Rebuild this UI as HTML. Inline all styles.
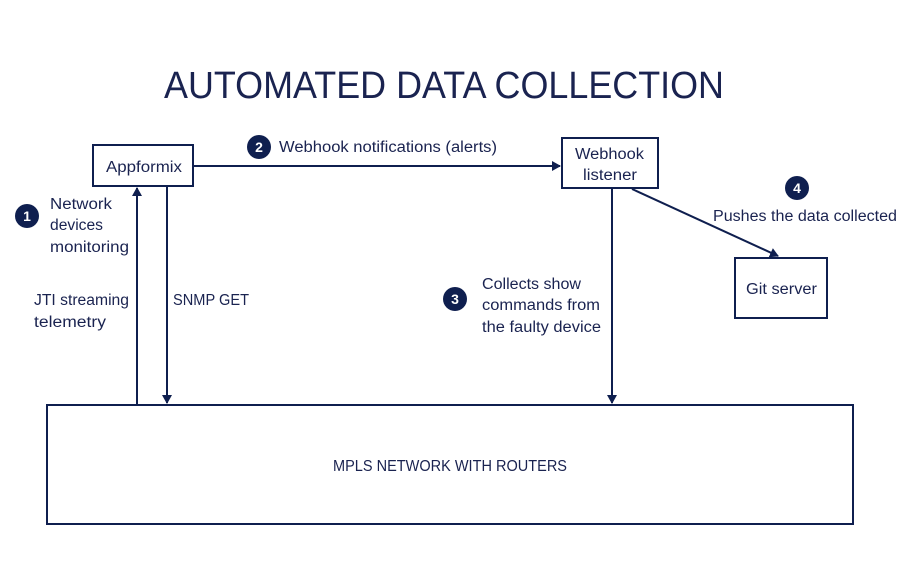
<!DOCTYPE html>
<html><head><meta charset="utf-8"><style>
html,body{margin:0;padding:0;background:#fff;}
svg{display:block;}
text{font-family:"Liberation Sans",sans-serif;fill:#1a2350;}
</style></head><body>
<svg width="905" height="573" viewBox="0 0 905 573" xmlns="http://www.w3.org/2000/svg">
<defs><marker id="a" markerWidth="10" markerHeight="10" refX="8" refY="5" orient="auto" markerUnits="userSpaceOnUse"><path d="M0,0 L9,5 L0,10 z" fill="#0f1f4f"/></marker></defs>
<text x="164" y="98" font-size="38" textLength="560" lengthAdjust="spacingAndGlyphs">AUTOMATED DATA COLLECTION</text>
<g fill="none" stroke="#0f1f4f" stroke-width="2">
<rect x="93" y="145" width="100" height="41"/>
<rect x="562" y="138" width="96" height="50"/>
<rect x="735" y="258" width="92" height="60"/>
<rect x="47" y="405" width="806" height="119"/>
<line x1="137" y1="405" x2="137" y2="188" marker-end="url(#a)"/>
<line x1="167" y1="186" x2="167" y2="403" marker-end="url(#a)"/>
<line x1="193" y1="166" x2="560" y2="166" marker-end="url(#a)"/>
<line x1="612" y1="188" x2="612" y2="403" marker-end="url(#a)"/>
<line x1="632" y1="189" x2="778" y2="256" marker-end="url(#a)"/>
</g>
<g fill="#0f1f4f">
<circle cx="27" cy="216" r="12"/><circle cx="259" cy="147" r="12"/>
<circle cx="455" cy="299" r="12"/><circle cx="797" cy="188" r="12"/>
</g>
<g font-size="14" font-weight="bold" text-anchor="middle">
<text x="27" y="221" style="fill:#fff">1</text><text x="259" y="152" style="fill:#fff">2</text>
<text x="455" y="304" style="fill:#fff">3</text><text x="797" y="193" style="fill:#fff">4</text>
</g>
<g font-size="15.5">
<text x="106" y="172" textLength="76" lengthAdjust="spacingAndGlyphs">Appformix</text>
<text x="575" y="159" textLength="69" lengthAdjust="spacingAndGlyphs">Webhook</text>
<text x="583" y="180" textLength="54" lengthAdjust="spacingAndGlyphs">listener</text>
<text x="746" y="294" textLength="71" lengthAdjust="spacingAndGlyphs">Git server</text>
<text x="333" y="471" textLength="234" lengthAdjust="spacingAndGlyphs">MPLS NETWORK WITH ROUTERS</text>
<text x="50" y="209" textLength="62" lengthAdjust="spacingAndGlyphs">Network</text>
<text x="50" y="230" textLength="53" lengthAdjust="spacingAndGlyphs">devices</text>
<text x="50" y="252" textLength="79" lengthAdjust="spacingAndGlyphs">monitoring</text>
<text x="279" y="152" textLength="218" lengthAdjust="spacingAndGlyphs">Webhook notifications (alerts)</text>
<text x="713" y="221" textLength="184" lengthAdjust="spacingAndGlyphs">Pushes the data collected</text>
<text x="482" y="289" textLength="99" lengthAdjust="spacingAndGlyphs">Collects show</text>
<text x="482" y="310" textLength="118" lengthAdjust="spacingAndGlyphs">commands from</text>
<text x="482" y="332" textLength="119" lengthAdjust="spacingAndGlyphs">the faulty device</text>
<text x="34" y="305" textLength="95" lengthAdjust="spacingAndGlyphs">JTI streaming</text>
<text x="34" y="327" textLength="72" lengthAdjust="spacingAndGlyphs">telemetry</text>
<text x="173" y="305" textLength="76" lengthAdjust="spacingAndGlyphs">SNMP GET</text>
</g>
</svg>
</body></html>
